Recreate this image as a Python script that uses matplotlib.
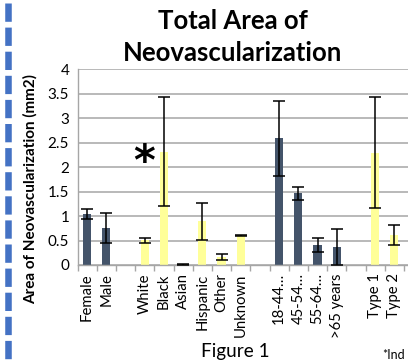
import matplotlib
matplotlib.use("Agg")
import matplotlib.pyplot as plt
from matplotlib.lines import Line2D

plt.rcParams['font.family'] = ['Lato', 'DejaVu Sans']

W, H = 408, 362
DPI = 100

categories = ["Female", "Male", "", "White", "Black", "Asian", "Hispanic", "Other", "Unknown", "",
              "18-44…", "45-54…", "55-64…", ">65 years", "", "Type 1", "Type 2"]
values = [1.05, 0.76, None, 0.51, 2.32, 0.02, 0.89, 0.16, 0.61, None,
          2.59, 1.47, 0.41, 0.37, None, 2.30, 0.61]
errors = [0.10, 0.31, None, 0.05, 1.12, 0.01, 0.37, 0.065, 0.01, None,
          0.76, 0.135, 0.14, 0.36, None, 1.14, 0.21]
groups = ["d", "d", None, "y", "y", "y", "y", "y", "y", None,
          "d", "d", "d", "d", None, "y", "y"]
yticks = [0, 0.5, 1, 1.5, 2, 2.5, 3, 3.5, 4]
ytick_labels = ["0", "0.5", "1", "1.5", "2", "2.5", "3", "3.5", "4"]

colors = {"d": "#44546A", "y": "#FFFF99"}

fig = plt.figure(figsize=(W / DPI, H / DPI), dpi=DPI)

def fx(px):
    return px / W

def fy(py):
    return 1 - py / H

slot = 19.2
n_slots = 20
left_px, top_px, bottom_px = 77.5, 69.4, 265
ax = fig.add_axes([fx(left_px), fy(bottom_px), n_slots * slot / W, (bottom_px - top_px) / H])

xs = [i for i, v in enumerate(values) if v is not None]
vals = [values[i] for i in xs]
errs = [errors[i] for i in xs]
cols = [colors[groups[i]] for i in xs]

ax.bar(xs, vals, width=0.42, color=cols, zorder=2)
ax.errorbar(xs, vals, yerr=errs, fmt='none', ecolor='black', elinewidth=1.1,
            capsize=4.3, capthick=1.1, zorder=3)

ax.set_xlim(-0.5, n_slots - 0.5)
ax.set_ylim(0, 4)
ax.set_yticks(yticks)
ax.set_yticklabels(ytick_labels, fontsize=11)
ax.yaxis.grid(True, color='#A6A6A6', linewidth=1.1, zorder=0)
ax.set_axisbelow(True)

ax.set_xticks(range(len(categories)))
ax.set_xticklabels(categories, rotation=90, fontsize=10.7, va='top', ha='center')
ax.set_xticks([i - 0.5 for i in range(n_slots + 1)], minor=True)
ax.tick_params(axis='x', which='major', length=0, pad=6)
ax.tick_params(axis='x', which='minor', length=4, color='#A6A6A6', width=1)
ax.tick_params(axis='y', length=0, pad=6)

for s in ['top', 'right']:
    ax.spines[s].set_visible(False)
ax.spines['left'].set_color('#A6A6A6')
ax.spines['bottom'].set_color('#A6A6A6')
ax.spines['left'].set_linewidth(1)
ax.spines['bottom'].set_linewidth(1)

fig.text(fx(144), fy(158.3), "*", fontsize=30, fontweight='bold', family='DejaVu Sans',
         ha='center', va='center_baseline')

fig.text(fx(232.5), fy(21), "Total Area of", fontsize=18.5, fontweight='bold', ha='center', va='center')
fig.text(fx(232.5), fy(53), "Neovascularization", fontsize=18.5, fontweight='bold', ha='center', va='center')
fig.text(fx(30), fy(189), "Area of Neovascularization (mm2)", fontsize=11, fontweight='bold',
         rotation=90, ha='center', va='center')
fig.text(fx(235.5), fy(352), "Figure 1", fontsize=13.7, ha='center', va='center')
fig.text(fx(382), fy(355), "*Ind", fontsize=9, ha='left', va='center')

lw = 4.7
line = Line2D([fx(8.3), fx(8.3)], [fy(3.3), fy(362)], transform=fig.transFigure,
              color='#4472C4', linewidth=lw, solid_capstyle='butt', dash_capstyle='butt',
              linestyle=(0, (18.3 * 0.72 / lw, 5.8 * 0.72 / lw)))
fig.add_artist(line)

fig.savefig("out.png", dpi=DPI)
